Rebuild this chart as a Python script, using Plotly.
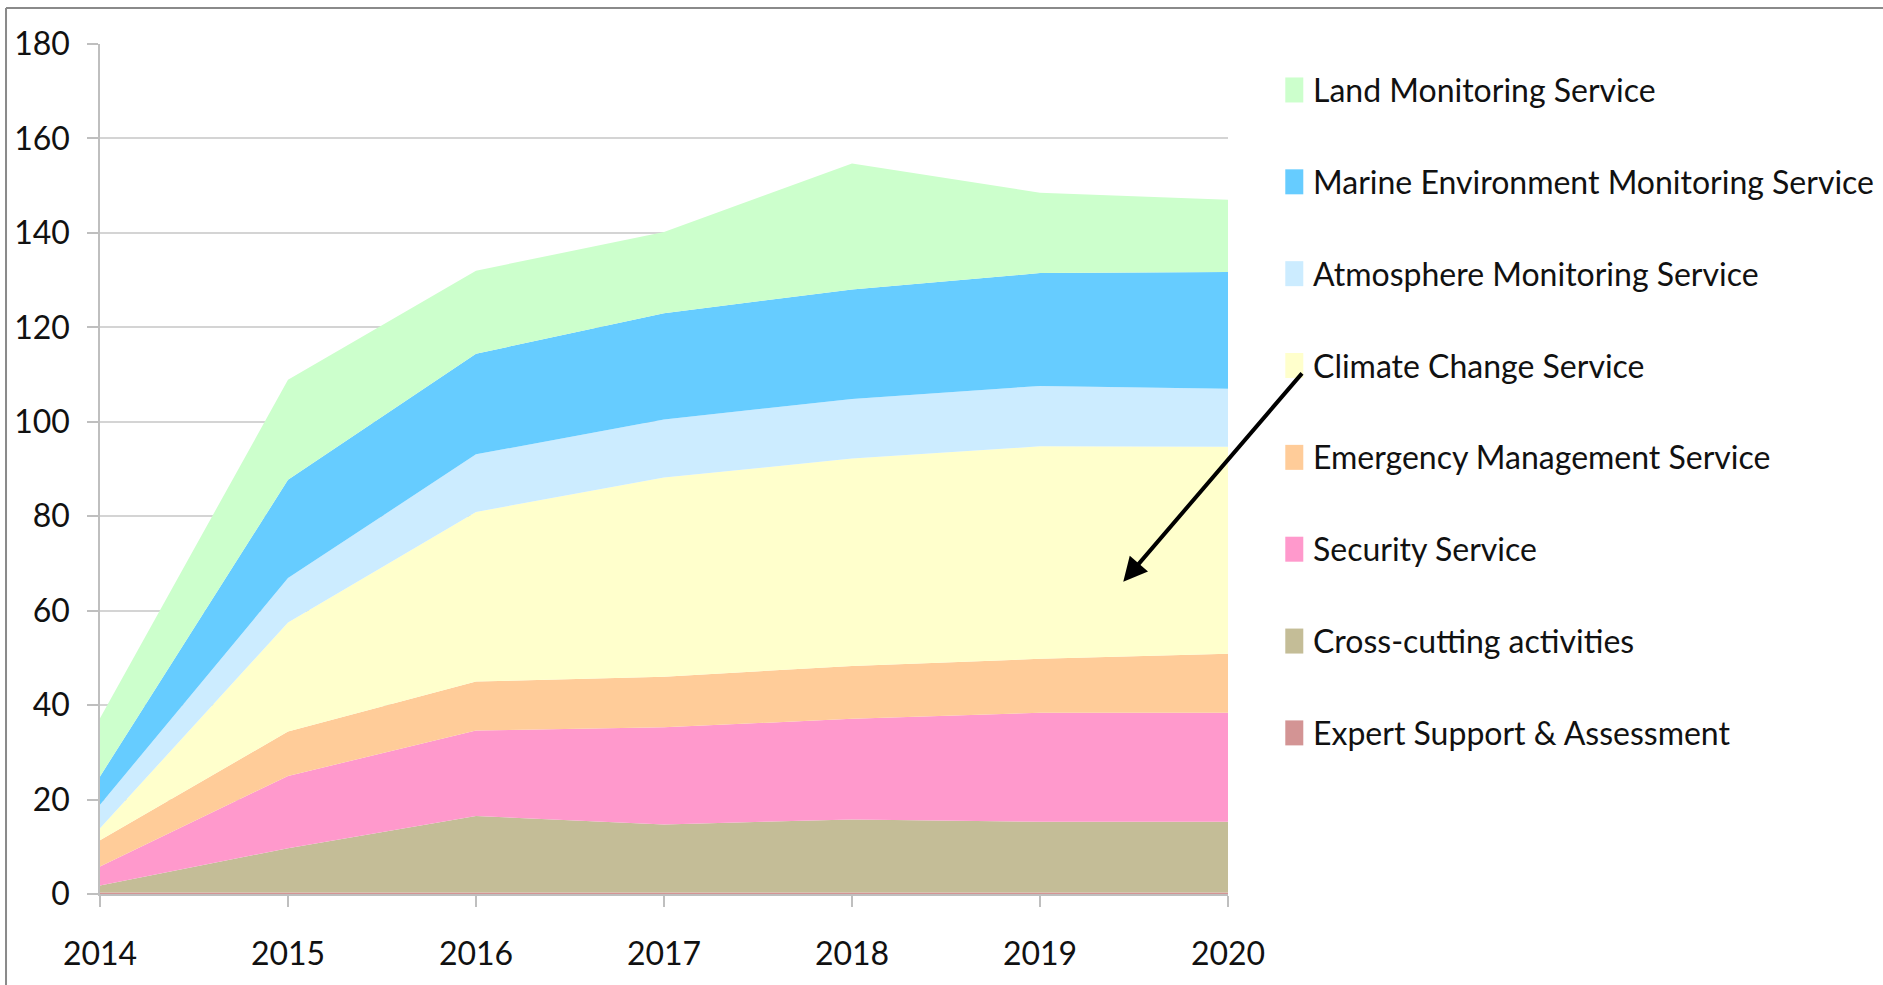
import plotly.graph_objects as go

years = [2014, 2015, 2016, 2017, 2018, 2019, 2020]

# series listed bottom-to-top of the stack
expert_support = [0.3, 0.3, 0.3, 0.3, 0.3, 0.3, 0.3]
cross_cutting = [1.5, 9.4, 16.2, 14.4, 15.5, 15.0, 15.0]
security = [4.0, 15.3, 18.1, 20.6, 21.3, 23.1, 23.1]
emergency = [5.6, 9.4, 10.4, 10.7, 11.2, 11.4, 12.5]
climate_change = [2.5, 23.1, 35.9, 42.2, 43.9, 45.0, 43.8]
atmosphere = [5.0, 9.4, 12.2, 12.3, 12.6, 12.8, 12.3]
marine = [6.0, 20.8, 21.3, 22.5, 23.2, 23.9, 24.7]
land = [12.3, 21.2, 17.6, 17.2, 26.7, 17.0, 15.3]

series_names = [
    "Expert Support & Assessment",
    "Cross-cutting activities",
    "Security Service",
    "Emergency Management Service",
    "Climate Change Service",
    "Atmosphere Monitoring Service",
    "Marine Environment Monitoring Service",
    "Land Monitoring Service",
]
series_values = [expert_support, cross_cutting, security, emergency,
                 climate_change, atmosphere, marine, land]
series_colors = ["#D39494", "#C4BD97", "#FF99CC", "#FFCC99",
                 "#FFFFCC", "#CCECFF", "#66CCFF", "#CCFFCC"]

y_ticks = [0, 20, 40, 60, 80, 100, 120, 140, 160, 180]

FONT = "Lato, 'Open Sans', sans-serif"
FSIZE = 32

fig = go.Figure()
for name, vals, col in zip(series_names, series_values, series_colors):
    fig.add_trace(go.Scatter(
        x=years, y=vals, name=name, mode="lines", stackgroup="one",
        line=dict(width=0, color=col), fillcolor=col, showlegend=False,
    ))

# pixel geometry of the plot area
W, H = 1883, 985
L, R, T, B = 99.5, 1227.7, 43.5, 894.0

def px(xp):
    return (xp - L) / (R - L)

def py(yp):
    return (B - yp) / (B - T)

shapes = []
annotations = []

# legend, top-to-bottom: reverse order of the stack
for i, (name, col) in enumerate(zip(series_names[::-1], series_colors[::-1])):
    cy = 89 + 91.9 * i
    shapes.append(dict(type="rect", xref="paper", yref="paper",
                       x0=px(1285), x1=px(1303), y0=py(cy + 13), y1=py(cy - 12),
                       fillcolor=col, line=dict(width=0)))
    annotations.append(dict(xref="paper", yref="paper", x=px(1311), y=py(cy),
                            text=name, showarrow=False, xanchor="left",
                            yanchor="middle",
                            font=dict(family=FONT, size=FSIZE, color="#111111")))

# outer frame (top and left edges)
shapes.append(dict(type="line", xref="paper", yref="paper",
                   x0=px(5.5), x1=px(W + 10), y0=py(7.5), y1=py(7.5),
                   line=dict(color="#8a8a8a", width=2)))
shapes.append(dict(type="line", xref="paper", yref="paper",
                   x0=px(5.5), x1=px(5.5), y0=py(7.5), y1=py(H + 10),
                   line=dict(color="#8a8a8a", width=2)))

# arrow pointing into the Climate Change band
annotations.append(dict(x=2019.443, y=66.1, xref="x", yref="y",
                        ax=180, ay=-210, axref="pixel", ayref="pixel",
                        showarrow=True, arrowhead=2, arrowsize=1.2,
                        arrowwidth=4, arrowcolor="#000000", text=""))

fig.update_layout(
    width=W, height=H, autosize=False,
    margin=dict(l=L, r=W - R, t=T, b=H - B, pad=0, autoexpand=False),
    plot_bgcolor="white", paper_bgcolor="white",
    shapes=shapes, annotations=annotations,
    showlegend=False,
    font=dict(family=FONT, size=FSIZE, color="#111111"),
)
fig.update_xaxes(
    range=[2014, 2020], tickvals=years, ticktext=[str(y) for y in years],
    showgrid=False, showline=True, linecolor="#bfbfbf", linewidth=1.5,
    ticks="outside", ticklen=11, tickcolor="#bfbfbf", tickwidth=1.5,
    ticklabelstandoff=20, zeroline=False, automargin=False,
    tickfont=dict(family=FONT, size=FSIZE, color="#111111"),
)
fig.update_yaxes(
    range=[0, 180], tickvals=y_ticks, showgrid=True, gridcolor="#d4d4d4",
    gridwidth=1.5, showline=True, linecolor="#bfbfbf", linewidth=1.5,
    ticks="outside", ticklen=11, tickcolor="#bfbfbf", tickwidth=1.5,
    ticklabelstandoff=11, zeroline=False, automargin=False,
    tickfont=dict(family=FONT, size=FSIZE, color="#111111"),
)

fig.write_html(
    "out.html",
    config={"displayModeBar": False},
    post_script="document.body.style.margin='0';document.body.style.overflow='hidden';",
)
